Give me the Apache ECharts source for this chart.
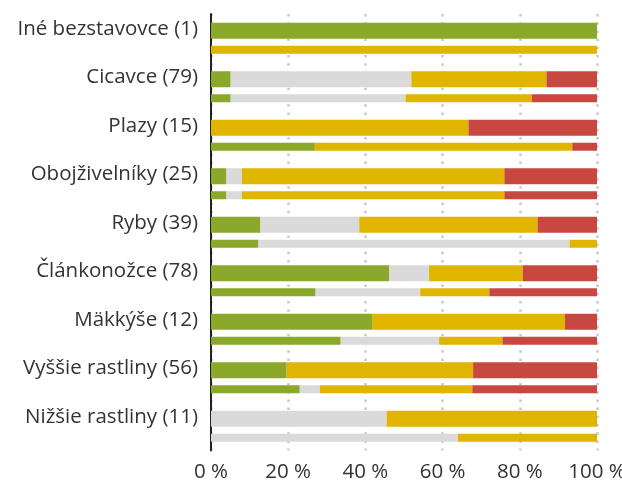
<!DOCTYPE html>
<html>
<head>
<meta charset="utf-8">
<script src="https://cdn.jsdelivr.net/npm/echarts@6/dist/echarts.min.js"></script>
<style>
  html, body { margin: 0; padding: 0; background: #fff; }
  #chart { width: 622px; height: 485px; }
</style>
</head>
<body>
<div id="chart"></div>
<script>
// Categories (top to bottom)
const categories = [
  'Iné bezstavovce (1)', 'Cicavce (79)', 'Plazy (15)', 'Obojživelníky (25)',
  'Ryby (39)', 'Článkonožce (78)', 'Mäkkýše (12)', 'Vyššie rastliny (56)', 'Nižšie rastliny (11)'
];
// Thick bars (percentages)
const thickGreen  = [100, 5.1, 0, 4, 12.8, 46.2, 41.7, 19.6, 0];
const thickGray   = [0, 46.8, 0, 4, 25.6, 10.3, 0, 0, 45.5];
const thickYellow = [0, 35.0, 66.7, 68, 46.2, 24.3, 50.0, 48.3, 54.5];
const thickRed    = [0, 13.1, 33.3, 24, 15.4, 19.2, 8.3, 32.1, 0];
// Thin bars (percentages)
const thinGreen  = [0, 5.1, 26.9, 4, 12.3, 27.1, 33.6, 23.0, 0];
const thinGray   = [0, 45.3, 0, 4, 80.6, 27.1, 25.5, 5.2, 64.0];
const thinYellow = [100, 32.7, 66.7, 68, 7.1, 17.9, 16.4, 39.5, 36.0];
const thinRed    = [0, 16.9, 6.4, 24, 0, 27.9, 24.5, 32.3, 0];

const xTicks = [0, 20, 40, 60, 80, 100];

const colors = { green: '#8aa82a', gray: '#dadada', yellow: '#e0b500', red: '#c84841' };

function mk(name, data, stack, width, color) {
  return {
    name: name, type: 'bar', stack: stack, data: data,
    barWidth: width, barGap: '43.75%',
    itemStyle: { color: color },
    emphasis: { disabled: true },
    silent: true
  };
}

const chart = echarts.init(document.getElementById('chart'), null, { renderer: 'canvas' });
const FONT = '"Open Sans", Lato, sans-serif';
chart.setOption({
  animation: false,
  grid: { left: 211, right: 25, top: 14, bottom: 34.5, containLabel: false, outerBoundsMode: 'none' },
  xAxis: {
    type: 'value', min: xTicks[0], max: xTicks[xTicks.length - 1], interval: 20,
    axisLine: { show: false }, axisTick: { show: false },
    axisLabel: {
      formatter: v => v + ' %', color: '#333', fontSize: 20.5, fontFamily: FONT, margin: 11
    },
    splitLine: { show: true, lineStyle: { color: '#c9c9c9', width: 2.5, type: [2.5, 5.7] } }
  },
  yAxis: {
    type: 'category', data: categories, inverse: true,
    axisLine: { show: true, lineStyle: { color: '#222', width: 2 } },
    axisTick: { show: false },
    axisLabel: { color: '#333', fontSize: 20.5, fontFamily: FONT, margin: 13,
      verticalAlign: 'bottom', lineHeight: 19 }
  },
  series: [
    mk('g1', thickGreen, 'a', 16, colors.green),
    mk('s1', thickGray, 'a', 16, colors.gray),
    mk('y1', thickYellow, 'a', 16, colors.yellow),
    mk('r1', thickRed, 'a', 16, colors.red),
    mk('g2', thinGreen, 'b', 8, colors.green),
    mk('s2', thinGray, 'b', 8, colors.gray),
    mk('y2', thinYellow, 'b', 8, colors.yellow),
    mk('r2', thinRed, 'b', 8, colors.red)
  ]
});
</script>
</body>
</html>
